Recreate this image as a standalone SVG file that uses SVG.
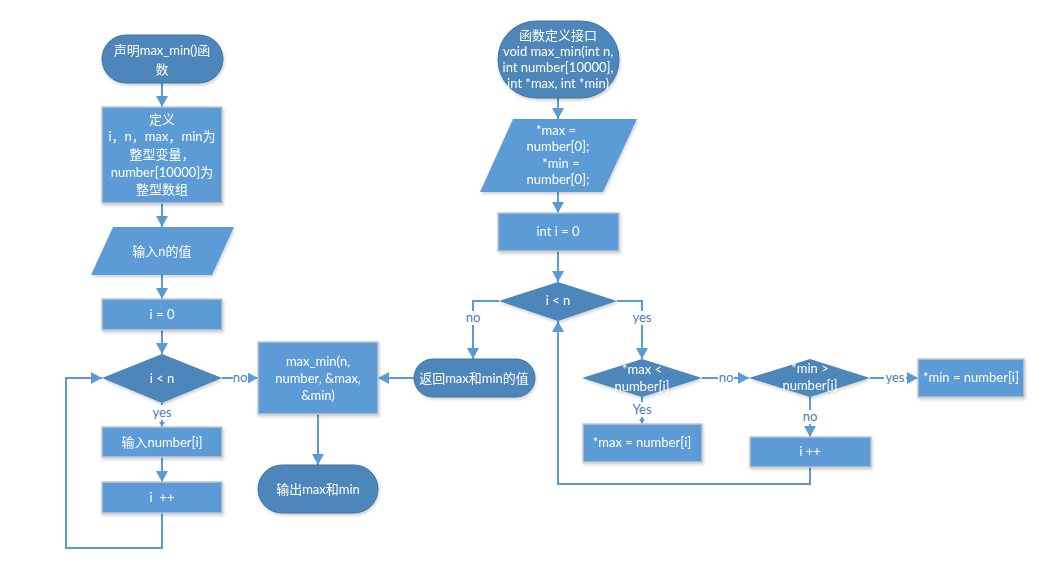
<svg xmlns="http://www.w3.org/2000/svg" width="1059" height="575" viewBox="0 0 1059 575">
<defs>
<style>
.proc{fill:#5B9BD5;stroke:#BFC7D0;stroke-width:1.5}
.dark{fill:#4E86BA;stroke:none}
.term{fill:#4E86BA;stroke:#41719C;stroke-width:1}
.t{font-family:Lato,"Noto Sans CJK SC",sans-serif;font-size:13px;fill:#fff;text-anchor:middle}
.lbl{font-family:Lato,"Noto Sans CJK SC",sans-serif;font-size:13px;fill:#4A7EBB;text-anchor:middle}
.c{fill:none;stroke:#5B9BD5;stroke-width:2}
.bg{fill:#fff}
</style>
<marker id="a" markerUnits="userSpaceOnUse" markerWidth="12" markerHeight="12" refX="11" refY="6" orient="auto"><path d="M0,0 L11,6 L0,12 z" fill="#5B9BD5"/></marker>
<marker id="s" markerUnits="userSpaceOnUse" markerWidth="6" markerHeight="6" refX="5" refY="3" orient="auto"><path d="M0,0 L5,3 L0,6 z" fill="#5B9BD5"/></marker>
<filter id="sh" x="-10%" y="-10%" width="130%" height="140%"><feDropShadow dx="1" dy="2" stdDeviation="1.5" flood-color="#000" flood-opacity="0.18"/></filter>
</defs>
<rect width="1059" height="575" fill="#fff"/>

<g id="connectors">
<path class="c" d="M162,83 V107" marker-end="url(#a)"/>
<path class="c" d="M162,203 V227" marker-end="url(#a)"/>
<path class="c" d="M162,275 V299" marker-end="url(#a)"/>
<path class="c" d="M162,330 V354" marker-end="url(#a)"/>
<path class="c" d="M162,403 V427" marker-end="url(#s)"/>
<path class="c" d="M162,457 V482" marker-end="url(#a)"/>
<path class="c" d="M162,513 V548 H66 V378 H102" marker-end="url(#a)"/>
<path class="c" d="M222,378 H258" marker-end="url(#a)"/>
<path class="c" d="M318,414 V465" marker-end="url(#a)"/>
<path class="c" d="M414,378 H378" marker-end="url(#a)"/>
<path class="c" d="M558,98 V119" marker-end="url(#a)"/>
<path class="c" d="M558,192 V213" marker-end="url(#a)"/>
<path class="c" d="M558,251 V282" marker-end="url(#a)"/>
<path class="c" d="M499,301 H473 V359" marker-end="url(#a)"/>
<path class="c" d="M617,301 H642 V359" marker-end="url(#a)"/>
<path class="c" d="M642,397 V424" marker-end="url(#s)"/>
<path class="c" d="M702,378 H749" marker-end="url(#a)"/>
<path class="c" d="M870,378 H918" marker-end="url(#a)"/>
<path class="c" d="M810,397 V437" marker-end="url(#a)"/>
<path class="c" d="M810,467 V484 H558 V321" marker-end="url(#a)"/>
<g id="labels">
<rect class="bg" x="150" y="405" width="24" height="15"/><text class="lbl" x="162" y="417">yes</text>
<rect class="bg" x="233" y="371" width="15" height="14"/><text class="lbl" x="240" y="382">no</text>
<rect class="bg" x="465" y="311" width="16" height="14"/><text class="lbl" x="473" y="322">no</text>
<rect class="bg" x="630" y="311" width="24" height="14"/><text class="lbl" x="642" y="322">yes</text>
<rect class="bg" x="630" y="402" width="24" height="15"/><text class="lbl" x="642" y="414">Yes</text>
<rect class="bg" x="718" y="371" width="16" height="14"/><text class="lbl" x="726" y="382">no</text>
<rect class="bg" x="884" y="371" width="22" height="14"/><text class="lbl" x="895" y="382">yes</text>
<rect class="bg" x="802" y="410" width="16" height="14"/><text class="lbl" x="810" y="421">no</text>
</g>
</g>

<g id="n1" filter="url(#sh)"><rect class="term" x="102" y="35" width="121" height="48" rx="24"/>
<text class="t" x="162" y="55">声明max_min()函</text><text class="t" x="162" y="74">数</text></g>
<g id="n2" filter="url(#sh)"><rect class="proc" x="102" y="107" width="120" height="96"/>
<text class="t" x="162" y="124">定义</text><text class="t" x="162" y="141">i，n，max，min为</text><text class="t" x="162" y="159">整型变量，</text><text class="t" x="162" y="177">number[10000]为</text><text class="t" x="162" y="194">整型数组</text></g>
<g id="n3" filter="url(#sh)"><path class="proc" d="M113,227 L234,227 L212,275 L91,275 Z" style="stroke:none"/>
<text class="t" x="162" y="256">输入n的值</text></g>
<g id="n4" filter="url(#sh)"><rect class="proc" x="102" y="299" width="120" height="31"/>
<text class="t" x="162" y="319">i = 0</text></g>
<g id="n5" filter="url(#sh)"><path class="dark" d="M162,354 L222,378 L162,403 L102,378 Z"/>
<text class="t" x="162" y="383">i &lt; n</text></g>
<g id="n6" filter="url(#sh)"><rect class="proc" x="102" y="427" width="120" height="30"/>
<text class="t" x="162" y="447">输入number[i]</text></g>
<g id="n7" filter="url(#sh)"><rect class="proc" x="102" y="482" width="120" height="31"/>
<text class="t" x="162" y="502" xml:space="preserve">i  ++</text></g>
<g id="n8" filter="url(#sh)"><rect class="proc" x="258" y="342" width="120" height="72"/>
<text class="t" x="318" y="366">max_min(n,</text><text class="t" x="318" y="383">number, &amp;max,</text><text class="t" x="318" y="400">&amp;min)</text></g>
<g id="n9" filter="url(#sh)"><rect class="term" x="258" y="465" width="120" height="48" rx="24"/>
<text class="t" x="318" y="494">输出max和min</text></g>
<g id="n10" filter="url(#sh)"><rect class="term" x="414" y="359" width="121" height="38" rx="19"/>
<text class="t" x="474" y="383">返回max和min的值</text></g>

<g id="n11" filter="url(#sh)"><rect class="term" x="498" y="21" width="121" height="77" rx="38"/>
<text class="t" x="558" y="40">函数定义接口</text><text class="t" x="558" y="56">void max_min(int n,</text><text class="t" x="558" y="72">int number[10000],</text><text class="t" x="558" y="88">int *max, int *min)</text></g>
<g id="n12" filter="url(#sh)"><path class="proc" d="M513,119 L637,119 L603,192 L480,192 Z" style="stroke:none"/>
<text class="t" x="556" y="135">*max =</text><text class="t" x="558" y="151">number[0];</text><text class="t" x="561" y="168">*min =</text><text class="t" x="558" y="184">number[0];</text></g>
<g id="n13" filter="url(#sh)"><rect class="proc" x="498" y="213" width="121" height="38"/>
<text class="t" x="558" y="236">int i = 0</text></g>
<g id="n14" filter="url(#sh)"><path class="dark" d="M558,282 L617,301 L558,321 L499,301 Z"/>
<text class="t" x="558" y="305">i &lt; n</text></g>
<g id="n15" filter="url(#sh)"><path class="dark" d="M642,359 L702,378 L642,397 L582,378 Z"/>
<text class="t" x="642" y="374">*max &lt;</text><text class="t" x="642" y="391">number[i]</text></g>
<g id="n16" filter="url(#sh)"><rect class="proc" x="583" y="424" width="119" height="38"/>
<text class="t" x="642" y="447">*max = number[i]</text></g>
<g id="n17" filter="url(#sh)"><path class="dark" d="M810,359 L870,378 L810,397 L749,378 Z"/>
<text class="t" x="810" y="373">*min &gt;</text><text class="t" x="810" y="390">number[i]</text></g>
<g id="n18" filter="url(#sh)"><rect class="proc" x="918" y="359" width="106" height="38"/>
<text class="t" x="971" y="382">*min = number[i]</text></g>
<g id="n19" filter="url(#sh)"><rect class="proc" x="750" y="437" width="121" height="30"/>
<text class="t" x="810" y="456">i ++</text></g>
</svg>
